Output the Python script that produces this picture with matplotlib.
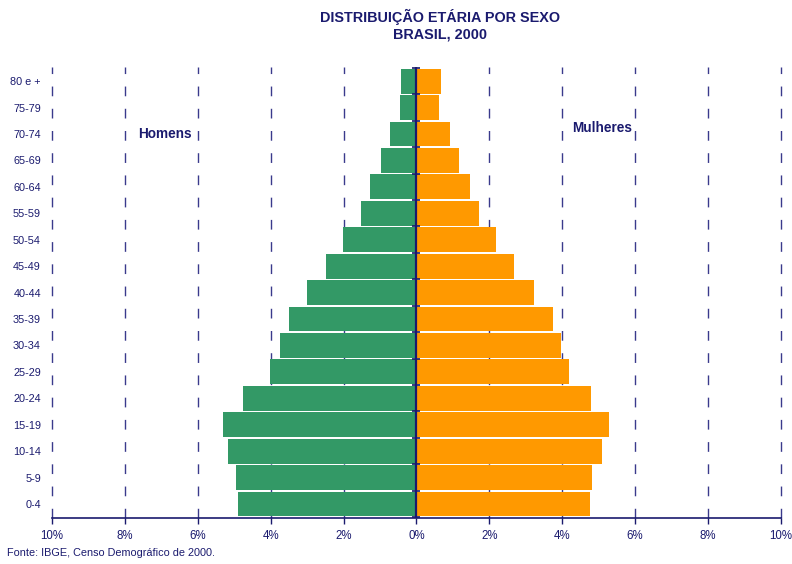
import numpy as np
import matplotlib.pyplot as plt
from matplotlib.ticker import FuncFormatter

plt.rcParams['font.family'] = ['Liberation Sans', 'DejaVu Sans']

# Age groups, from youngest to oldest
age_groups = ['0-4', '5-9', '10-14', '15-19', '20-24', '25-29', '30-34', '35-39',
              '40-44', '45-49', '50-54', '55-59', '60-64', '65-69', '70-74',
              '75-79', '80 e +']

# Share of total population (%)
homens = [4.90, 4.95, 5.17, 5.31, 4.76, 4.02, 3.74, 3.50,
          3.00, 2.48, 2.02, 1.52, 1.28, 0.97, 0.73, 0.45, 0.43]
mulheres = [4.76, 4.82, 5.09, 5.28, 4.79, 4.18, 3.96, 3.74,
            3.22, 2.67, 2.18, 1.71, 1.47, 1.17, 0.92, 0.62, 0.67]

navy = '#1a1a6e'
green = '#339966'
orange = '#ff9900'

fig = plt.figure(figsize=(7.92, 5.64), dpi=100)
ax = fig.add_axes([0.0657, 0.0816, 0.9203, 0.7994])

y = np.arange(len(age_groups))
ax.barh(y, -np.array(homens), height=0.94, color=green, zorder=2)
ax.barh(y, mulheres, height=0.94, color=orange, zorder=2)

ax.set_xlim(-10, 10)
ax.set_ylim(-0.53, len(age_groups) - 0.47)

# dashed vertical grid
for gx in range(-10, 11, 2):
    if gx != 0:
        ax.axvline(gx, color='#3a3a8c', lw=1.0, linestyle=(0, (7, 9)), zorder=1,
                   clip_on=False)

# central axis with small ticks at the group boundaries
ax.axvline(0, color=navy, lw=1.6, zorder=3)
ax.plot(np.zeros(len(age_groups) + 1), np.arange(len(age_groups) + 1) - 0.5,
        linestyle='none', marker='_', markersize=6, color=navy, mew=1.2, zorder=3,
        clip_on=False)

ax.set_xticks(range(-10, 11, 2))
ax.xaxis.set_major_formatter(FuncFormatter(lambda v, p: f'{abs(int(round(v)))}%'))
ax.set_yticks(y)
ax.set_yticklabels(age_groups)
ax.tick_params(axis='y', length=0, pad=8, labelsize=7.8, labelcolor=navy)
ax.tick_params(axis='x', length=4, width=1, color=navy, labelsize=8.3,
               labelcolor=navy, pad=5)

for s in ['top', 'right', 'left']:
    ax.spines[s].set_visible(False)
ax.spines['bottom'].set_color(navy)
ax.spines['bottom'].set_linewidth(1.2)

ax.text(-6.9, 14.0, 'Homens', ha='center', va='center', fontsize=9.8,
        fontweight='bold', color=navy)
ax.text(5.1, 14.22, 'Mulheres', ha='center', va='center', fontsize=9.8,
        fontweight='bold', color=navy)

fig.text(0.556, 0.985, 'DISTRIBUIÇÃO ETÁRIA POR SEXO\nBRASIL, 2000', ha='center',
         va='top', fontsize=10.4, fontweight='bold', color=navy, linespacing=1.25)
fig.text(0.009, 0.02, 'Fonte: IBGE, Censo Demográfico de 2000.', ha='left',
         va='center', fontsize=7.8, color=navy)

fig.savefig('out.png', dpi=100)
